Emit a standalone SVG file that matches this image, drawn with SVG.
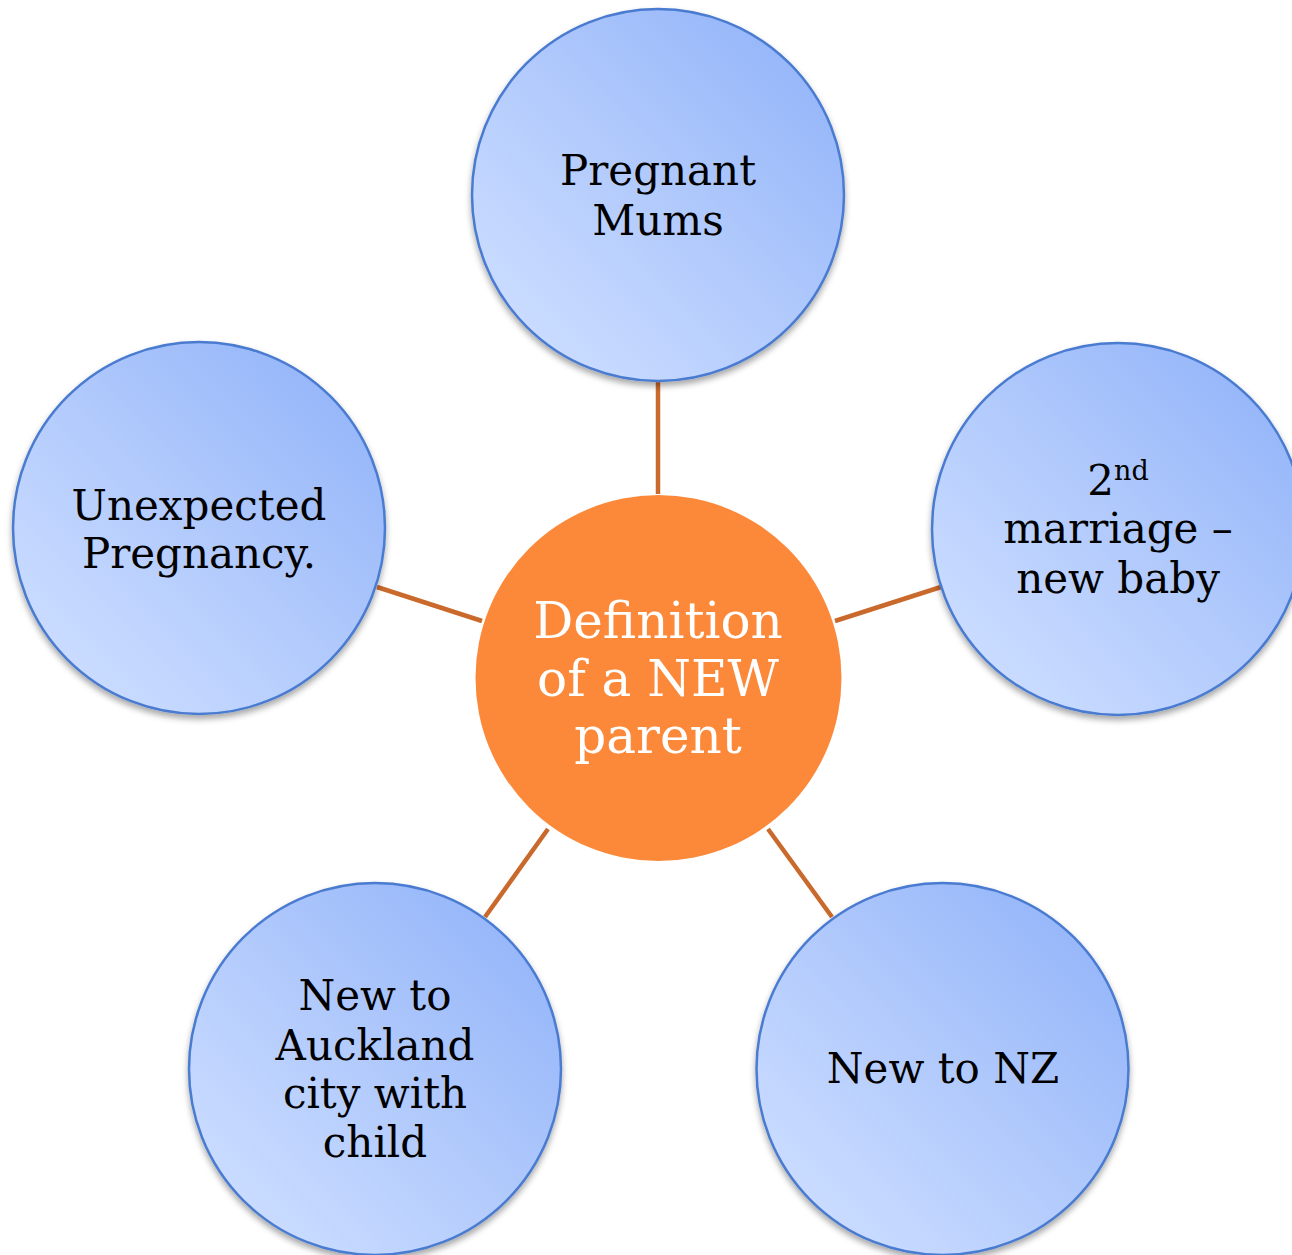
<svg xmlns="http://www.w3.org/2000/svg" width="1292" height="1255" viewBox="0 0 1292 1255">
  <defs>
    <linearGradient id="blueGrad" x1="0.15" y1="0.85" x2="0.9" y2="0.1">
      <stop offset="0" stop-color="#c9dbff"/>
      <stop offset="0.5" stop-color="#b0c9fc"/>
      <stop offset="1" stop-color="#94b5f9"/>
    </linearGradient>
    <filter id="shadow" x="-20%" y="-20%" width="140%" height="150%">
      <feDropShadow dx="0" dy="4" stdDeviation="3" flood-color="#000" flood-opacity="0.35"/>
    </filter>
    <style>
      .sat { fill: url(#blueGrad); stroke: #4a7bd0; stroke-width: 2.5; filter: url(#shadow); }
      .hub { fill: #fc8939; }
      .lbl { font-family: "DejaVu Serif", "Liberation Serif", serif; font-size: 42px; fill: #000; text-anchor: middle; }
      .hubl { font-family: "DejaVu Serif", "Liberation Serif", serif; font-size: 50px; fill: #fff; text-anchor: middle; }
      .conn { stroke: #c9692c; stroke-width: 4.5; fill: none; }
    </style>
  </defs>
  <rect width="1292" height="1255" fill="#fff"/>
  <g id="connectors">
    <line class="conn" x1="658" y1="381" x2="658" y2="494"/>
    <line class="conn" x1="835" y1="621" x2="941" y2="587"/>
    <line class="conn" x1="377" y1="587" x2="482" y2="621"/>
    <line class="conn" x1="548" y1="829" x2="485" y2="917"/>
    <line class="conn" x1="768" y1="829" x2="832" y2="917"/>
  </g>
  <g id="node-center">
    <circle class="hub" cx="658.5" cy="678" r="183"/>
    <text class="hubl" x="658" y="638">Definition</text>
    <text class="hubl" x="658" y="696">of a NEW</text>
    <text class="hubl" x="658" y="753">parent</text>
  </g>
  <g id="node-pregnant">
    <circle class="sat" cx="658" cy="195" r="186"/>
    <text class="lbl" x="658" y="185">Pregnant</text>
    <text class="lbl" x="658" y="235">Mums</text>
  </g>
  <g id="node-marriage">
    <circle class="sat" cx="1118" cy="529" r="186"/>
    <text class="lbl" x="1118" y="495">2<tspan font-size="27px" dy="-15">nd</tspan></text>
    <text class="lbl" x="1118" y="543">marriage –</text>
    <text class="lbl" x="1118" y="593">new baby</text>
  </g>
  <g id="node-unexpected">
    <circle class="sat" cx="199" cy="528" r="186"/>
    <text class="lbl" x="199" y="520">Unexpected</text>
    <text class="lbl" x="199" y="568">Pregnancy.</text>
  </g>
  <g id="node-auckland">
    <circle class="sat" cx="375" cy="1069" r="186"/>
    <text class="lbl" x="375" y="1010">New to</text>
    <text class="lbl" x="375" y="1060">Auckland</text>
    <text class="lbl" x="375" y="1108">city with</text>
    <text class="lbl" x="375" y="1157">child</text>
  </g>
  <g id="node-nz">
    <circle class="sat" cx="942.5" cy="1069" r="186"/>
    <text class="lbl" x="943" y="1083">New to NZ</text>
  </g>
</svg>
